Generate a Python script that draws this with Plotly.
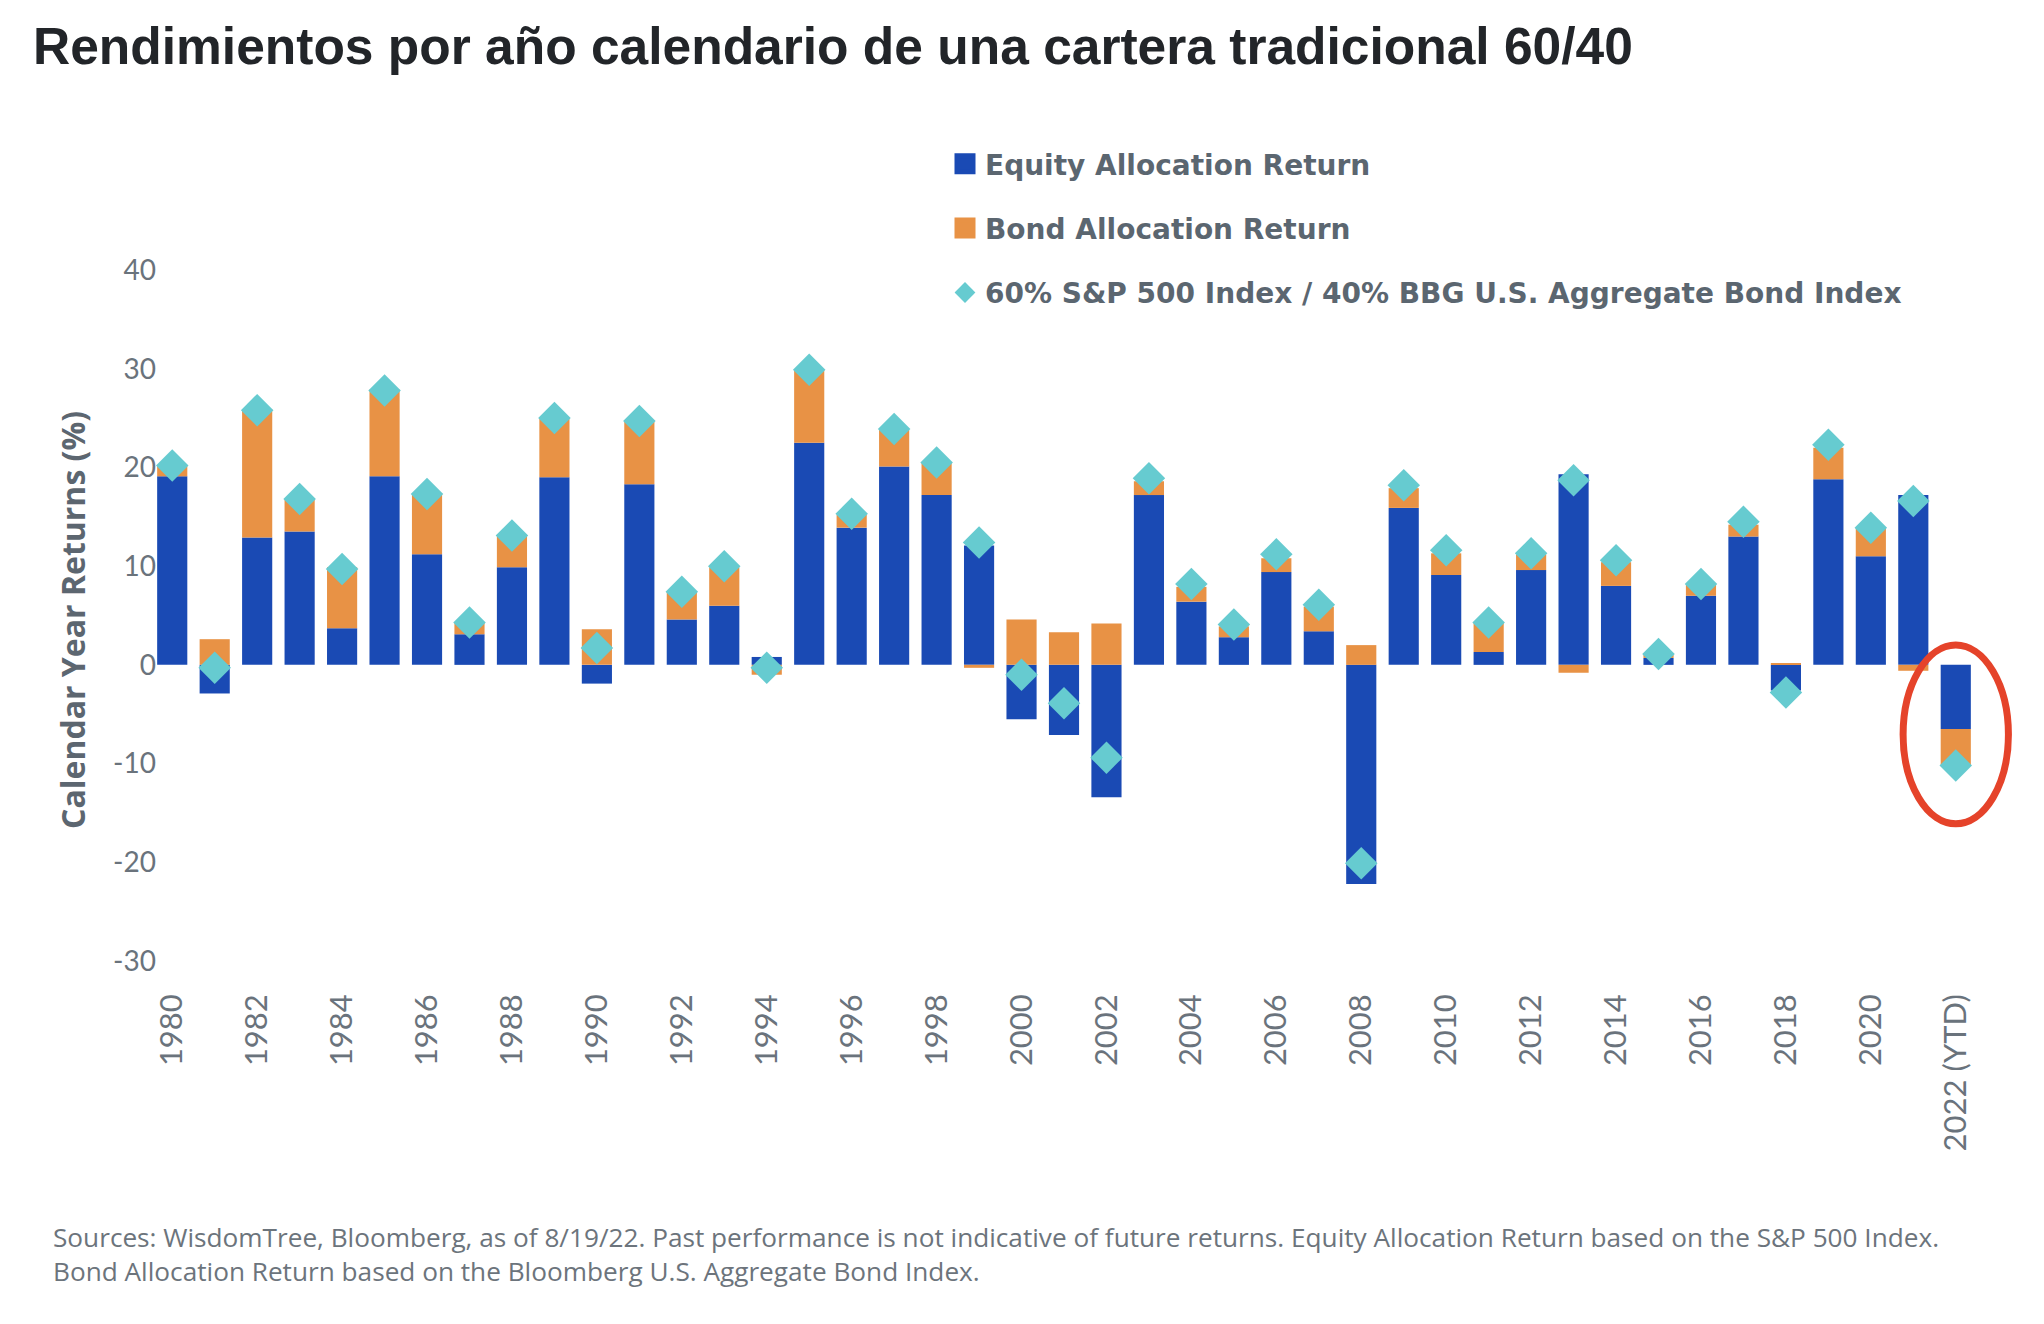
import plotly.graph_objects as go

W, H = 2044, 1324
# the page body has an 8px margin, so pixel targets below are shifted by OFF
OFF = 8
L, R, T, B = 151 - OFF, 1977 - OFF, 270 - OFF, 961 - OFF
Y_MIN, Y_MAX = -30, 40

years = [str(y) for y in range(1980, 2022)] + ["2022 (YTD)"]

equity_return = [19.1, -2.9, 12.9, 13.5, 3.7, 19.1, 11.2, 3.1, 9.9, 19.0,
                 -1.9, 18.3, 4.6, 6.0, 0.8, 22.5, 13.9, 20.1, 17.2, 12.1,
                 -5.5, -7.1, -13.4, 17.2, 6.4, 2.8, 9.4, 3.4, -22.2, 15.9,
                 9.1, 1.3, 9.6, 19.3, 8.0, 0.7, 7.0, 13.0, -2.6, 18.8,
                 11.0, 17.2, -6.5]
bond_return = [1.1, 2.6, 13.0, 3.3, 6.2, 8.8, 6.2, 1.2, 3.3, 6.0,
               3.6, 6.3, 2.8, 3.9, -1.0, 7.4, 1.3, 3.7, 3.3, -0.3,
               4.6, 3.3, 4.2, 1.4, 1.5, 1.1, 1.4, 2.5, 2.0, 2.0,
               2.2, 3.0, 1.6, -0.8, 2.4, 0.3, 1.1, 1.2, 0.1, 3.2,
               2.9, -0.6, -3.7]
index_return = [20.2, -0.3, 25.8, 16.8, 9.7, 27.8, 17.3, 4.3, 13.1, 25.0,
                1.7, 24.7, 7.4, 10.0, -0.3, 29.9, 15.3, 23.9, 20.5, 12.4,
                -1.0, -3.9, -9.4, 18.9, 8.2, 4.1, 11.2, 6.1, -20.1, 18.2,
                11.6, 4.3, 11.3, 18.7, 10.6, 1.1, 8.2, 14.5, -2.8, 22.3,
                13.9, 16.6, -10.2]

tick_years = years[::2]
y_ticks = [-30, -20, -10, 0, 10, 20, 30, 40]

BLUE = "#1a4ab4"
ORANGE = "#e89245"
CYAN = "#66cbd0"
GREY = "#6a737c"


def px_x(px):
    return (px - L) / (R - L)


def px_y(py):
    return (B - py) / (B - T)


def val_y(v):
    return (v - Y_MIN) / (Y_MAX - Y_MIN)


fig = go.Figure()
fig.add_trace(go.Bar(x=years, y=equity_return, name="Equity Allocation Return",
                     marker=dict(color=BLUE, line=dict(width=0)),
                     showlegend=False))
fig.add_trace(go.Bar(x=years, y=bond_return, name="Bond Allocation Return",
                     marker=dict(color=ORANGE, line=dict(width=0)),
                     showlegend=False))
fig.add_trace(go.Scatter(x=years, y=index_return, mode="markers",
                         name="60% S&P 500 Index / 40% BBG U.S. Aggregate Bond Index",
                         marker=dict(symbol="diamond", size=25, color=CYAN),
                         legendgroup="c", legendrank=3))

# legend entries for the bars (bar legend icons are too small)
for name, color, grp, rank in [("Equity Allocation Return", BLUE, "a", 1),
                               ("Bond Allocation Return", ORANGE, "b", 2)]:
    fig.add_trace(go.Scatter(x=[None], y=[None], mode="markers", name=name,
                             marker=dict(symbol="square", size=16, color=color,
                                         line=dict(color=color, width=5)),
                             legendgroup=grp, legendrank=rank))

# red ellipse around the YTD bar (paper refs so it is not clipped by the plot area)
n = len(years)
cx = (n - 0.5) / n
fig.add_shape(type="circle", xref="paper", yref="paper",
              x0=cx - 1.24 / n, x1=cx + 1.24 / n,
              y0=val_y(index_return[-1] - 5.9), y1=val_y(2.0),
              line=dict(color="#e5432a", width=7))

fig.add_annotation(text="Calendar Year Returns (%)", textangle=-90,
                   xref="paper", yref="paper", x=px_x(72 - OFF), y=px_y(620 - OFF),
                   showarrow=False, xanchor="center", yanchor="middle",
                   font=dict(family="Open Sans", size=32, color="#5c6670", weight="bold"))

fig.add_annotation(
    text="Sources: WisdomTree, Bloomberg, as of 8/19/22. Past performance is not indicative of future returns. "
         "Equity Allocation Return based on the S&P 500 Index.<br>"
         "Bond Allocation Return based on the Bloomberg U.S. Aggregate Bond Index.",
    xref="paper", yref="paper", x=px_x(51 - OFF), y=px_y(1254 - OFF),
    showarrow=False, xanchor="left", yanchor="middle", align="left",
    font=dict(family="Open Sans", size=26.2, color="#6c747c"))

fig.update_layout(
    width=W, height=H,
    barmode="relative",
    bargap=0.29,
    plot_bgcolor="white",
    paper_bgcolor="white",
    margin=dict(l=L, r=W - R, t=T, b=H - B, autoexpand=False),
    title=dict(text="Rendimientos por año calendario de una cartera tradicional 60/40",
               xref="container", yref="container", x=(33 - OFF) / W, xanchor="left",
               y=1 - (46 - OFF) / H, yanchor="middle",
               font=dict(family="Liberation Sans", size=51.5, color="#222529", weight="bold")),
    legend=dict(xref="container", yref="container", x=(945 - OFF) / W, y=1 - (139 - OFF) / H,
                xanchor="left", yanchor="top", tracegroupgap=25, traceorder="grouped",
                font=dict(family="DejaVu Sans", size=28, color="#5b6670", weight="bold"),
                bgcolor="rgba(0,0,0,0)"),
    xaxis=dict(type="category", range=[-0.5, n - 0.5],
               tickmode="array", tickvals=tick_years, ticktext=tick_years,
               tickangle=-90, showgrid=False, zeroline=False, showline=False, ticks="",
               ticklabelstandoff=26,
               tickfont=dict(family="Lato", size=31, color=GREY)),
    yaxis=dict(range=[Y_MIN, Y_MAX], tickmode="array", tickvals=y_ticks,
               ticktext=[str(v) for v in y_ticks], showgrid=False,
               zeroline=False, showline=False, ticks="", ticklabelstandoff=-6,
               tickfont=dict(family="Lato", size=28, color=GREY)),
)

fig.write_html("out.html")
